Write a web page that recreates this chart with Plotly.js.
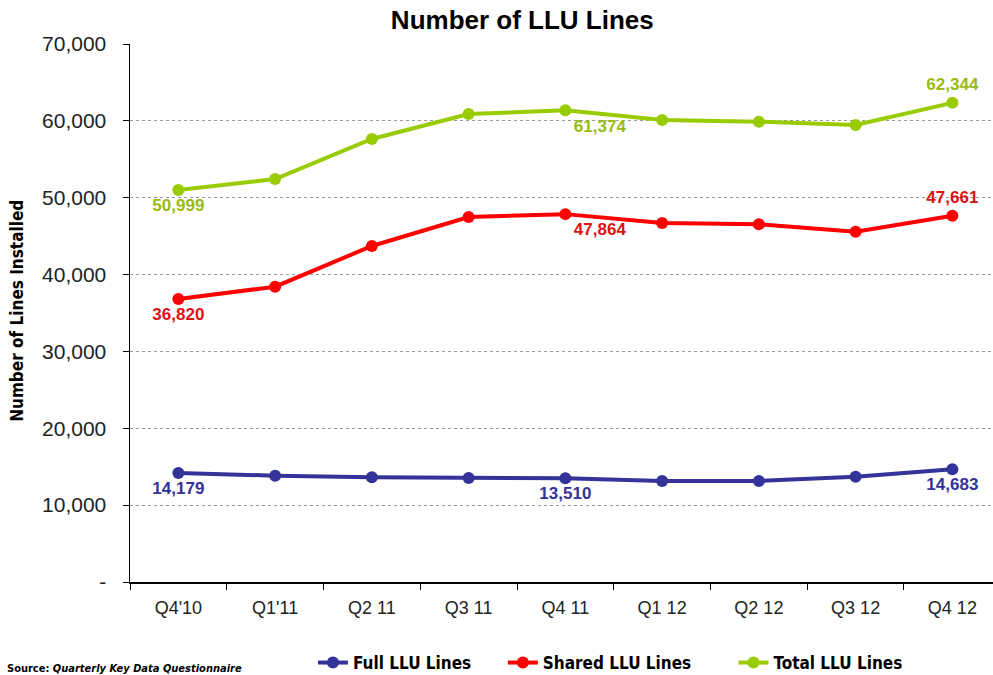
<!DOCTYPE html>
<html><head><meta charset="utf-8">
<script src="https://cdn.plot.ly/plotly-3.0.1.min.js"></script>
<style>html,body{margin:0;padding:0;background:#fff}#c{width:993px;height:675px}</style>
</head><body><div id="c"></div>
<script>
const quarters = ["Q4'10","Q1'11","Q2 11","Q3 11","Q4 11","Q1 12","Q2 12","Q3 12","Q4 12"];
const fullLines = [14179,13830,13620,13530,13510,13140,13140,13700,14683];
const sharedLines = [36820,38420,43720,47490,47864,46710,46540,45580,47661];
const totalLines = [50999,52430,57640,60890,61374,60100,59890,59460,62344];
const labelIdx = [0,4,8];
const yTickVals = [0,10000,20000,30000,40000,50000,60000,70000];
const yTickText = ["-","10,000","20,000","30,000","40,000","50,000","60,000","70,000"];

function fmt(v){return v.toLocaleString('en-US');}
function labels(arr){return arr.map((v,i)=>labelIdx.includes(i)?fmt(v):"");}

const lblFont = (c)=>({family:"Arial, Liberation Sans, sans-serif",size:17,color:c,weight:700});
const narrow = "DejaVu Sans Condensed, Liberation Sans Narrow, Arial Narrow, Arial, sans-serif";
const sp = (n)=>"&nbsp;".repeat(n);

const traces = [
 {name:"Full LLU Lines"+sp(5), x:quarters, y:fullLines, mode:"lines+markers+text",
  line:{color:"#333399",width:4}, marker:{color:"#333399",size:12},
  text:labels(fullLines), textposition:["bottom center","","","","bottom center","","","","bottom center"],
  textfont:lblFont("#333399"), cliponaxis:false},
 {name:"Shared LLU Lines"+sp(7), x:quarters, y:sharedLines, mode:"lines+markers+text",
  line:{color:"#FF0000",width:4}, marker:{color:"#FF0000",size:12},
  text:labels(sharedLines), textposition:["bottom center","","","","bottom right","","","","top center"],
  textfont:lblFont("#DD1111"), cliponaxis:false},
 {name:"Total LLU Lines", x:quarters, y:totalLines, mode:"lines+markers+text",
  line:{color:"#99CC00",width:4}, marker:{color:"#99CC00",size:12},
  text:labels(totalLines), textposition:["bottom center","","","","bottom right","","","","top center"],
  textfont:lblFont("#99BB11"), cliponaxis:false}
];

const layout = {
 width:993, height:675,
 margin:{l:130, r:0, t:44, b:93, autoexpand:false},
 paper_bgcolor:"#fff", plot_bgcolor:"#fff",
 font:{family:"Arial, Liberation Sans, sans-serif", color:"#222"},
 title:{text:"<b>Number of LLU Lines</b>", font:{size:26,color:"#000"}, xref:"container", yref:"container", x:0.526, xanchor:"center", y:0.97, yanchor:"middle"},
 xaxis:{type:"category", range:[-0.5,8.42], showline:true, linecolor:"#000", linewidth:1.5,
   ticks:"outside", tickson:"boundaries", ticklen:6, tickcolor:"#000",
   tickfont:{size:18,color:"#222"}, showgrid:false, zeroline:false, ticklabelstandoff:9},
 yaxis:{range:[0,70000], tickvals:yTickVals, ticktext:yTickText, showline:true, linecolor:"#000", linewidth:1.5,
   ticks:"outside", ticklen:6, tickcolor:"#000", tickfont:{size:21,color:"#222"},
   showgrid:true, gridcolor:"#999", griddash:"3px,3px", gridwidth:1, zeroline:false, ticklabelstandoff:12},
 showlegend:true,
 legend:{orientation:"h", x:0.212, xanchor:"left", yref:"container", y:1-663/675, yanchor:"middle",
   font:{family:narrow, size:17, color:"#000", weight:700},
   itemwidth:30, tracegroupgap:0},
 annotations:[
  {text:"<b>Number of Lines Installed</b>", textangle:-90, xref:"paper", yref:"paper", x:-0.131, y:0.504,
   xanchor:"center", yanchor:"middle", showarrow:false, font:{family:narrow, size:17,color:"#000"}},
  {text:"<b>Source: <i>Quarterly Key Data Questionnaire</i></b>", xref:"paper", yref:"paper", x:-0.145, y:-0.16,
   xanchor:"left", yanchor:"middle", showarrow:false, font:{family:narrow, size:11,color:"#000"}}
 ]
};

Plotly.newPlot("c", traces, layout, {displayModeBar:false, staticPlot:true});
</script></body></html>
